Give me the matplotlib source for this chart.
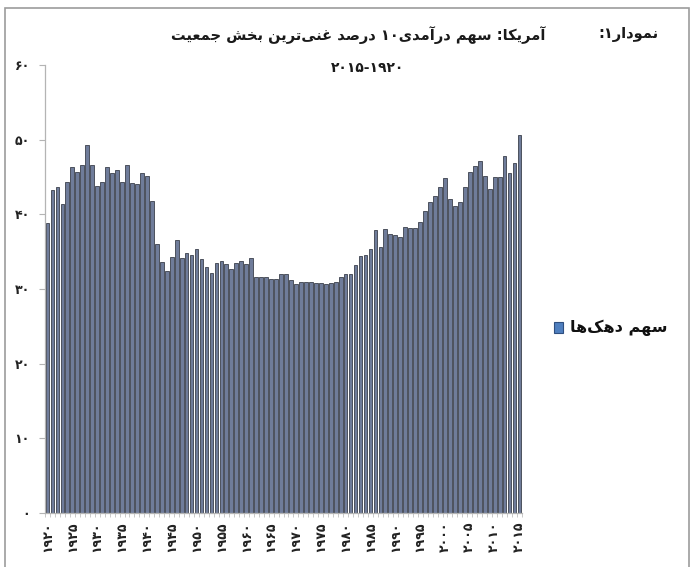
import matplotlib
matplotlib.use("Agg")
import matplotlib.pyplot as plt
from matplotlib import font_manager
from matplotlib.ft2font import FT2Font
from matplotlib.patches import Rectangle

# ---- data: share of income of the top 10% (USA), percent ----
years = list(range(1920, 2016))
shares = [
    38.9, 43.2, 43.6, 41.4, 44.3, 46.4, 45.7, 46.6, 49.3, 46.6,   # 1920-1929
    43.8, 44.3, 46.4, 45.6, 45.9, 44.3, 46.6, 44.2, 44.1, 45.5,   # 1930-1939
    45.2, 41.8, 36.0, 33.6, 32.4, 34.3, 36.5, 34.1, 34.8, 34.6,   # 1940-1949
    35.4, 34.0, 33.0, 32.1, 33.5, 33.7, 33.3, 32.7, 33.5, 33.7,   # 1950-1959
    33.3, 34.1, 31.6, 31.6, 31.6, 31.4, 31.4, 32.0, 32.0, 31.2,   # 1960-1969
    30.7, 31.0, 31.0, 30.9, 30.8, 30.8, 30.7, 30.8, 31.0, 31.6,   # 1970-1979
    32.0, 32.0, 33.2, 34.4, 34.5, 35.3, 37.9, 35.6, 38.0, 37.3,   # 1980-1989
    37.2, 37.0, 38.3, 38.2, 38.2, 39.0, 40.5, 41.7, 42.5, 43.6,   # 1990-1999
    44.9, 42.1, 41.1, 41.7, 43.6, 45.7, 46.5, 47.2, 45.2, 43.4,   # 2000-2009
    45.0, 45.0, 47.8, 45.6, 46.9, 50.6,                           # 2010-2015
]
y_ticks = [0, 10, 20, 30, 40, 50, 60]
label_step = 5

title_label = "نمودار۱:"
title_main = "آمریکا: سهم درآمدی۱۰ درصد غنی‌ترین بخش جمعیت"
title_years = "۲۰۱۵-۱۹۲۰"
legend_label = "سهم دهک‌ها"

# ---- minimal Persian shaping (presentation forms) + RTL visual order ----
FONT_FAMILY = "DejaVu Sans"
_regular = font_manager.findfont(font_manager.FontProperties(family=FONT_FAMILY))
_bold = font_manager.findfont(font_manager.FontProperties(family=FONT_FAMILY, weight="bold"))


def _has_glyphs(path, chars):
    try:
        f = FT2Font(path)
        return all(f.get_char_index(ord(c)) != 0 for c in chars)
    except Exception:
        return False


FORMS = {
    "\u0627": ("\uFE8D", "\uFE8E", None, None),
    "\u0622": ("\uFE81", "\uFE82", None, None),
    "\u062F": ("\uFEA9", "\uFEAA", None, None),
    "\u0631": ("\uFEAD", "\uFEAE", None, None),
    "\u0648": ("\uFEED", "\uFEEE", None, None),
    "\u0628": ("\uFE8F", "\uFE90", "\uFE91", "\uFE92"),
    "\u062A": ("\uFE95", "\uFE96", "\uFE97", "\uFE98"),
    "\u062C": ("\uFE9D", "\uFE9E", "\uFE9F", "\uFEA0"),
    "\u062E": ("\uFEA5", "\uFEA6", "\uFEA7", "\uFEA8"),
    "\u0633": ("\uFEB1", "\uFEB2", "\uFEB3", "\uFEB4"),
    "\u0634": ("\uFEB5", "\uFEB6", "\uFEB7", "\uFEB8"),
    "\u0635": ("\uFEB9", "\uFEBA", "\uFEBB", "\uFEBC"),
    "\u0639": ("\uFEC9", "\uFECA", "\uFECB", "\uFECC"),
    "\u063A": ("\uFECD", "\uFECE", "\uFECF", "\uFED0"),
    "\u0645": ("\uFEE1", "\uFEE2", "\uFEE3", "\uFEE4"),
    "\u0646": ("\uFEE5", "\uFEE6", "\uFEE7", "\uFEE8"),
    "\u0647": ("\uFEE9", "\uFEEA", "\uFEEB", "\uFEEC"),
    "\u06A9": ("\uFB8E", "\uFB8F", "\uFB90", "\uFB91"),
    "\u06CC": ("\uFBFC", "\uFBFD", "\uFBFE", "\uFBFF"),
}
# fall back to Arabic kaf / yeh shapes if the Persian forms are missing
if not _has_glyphs(_regular, FORMS["\u06A9"]):
    FORMS["\u06A9"] = ("\uFED9", "\uFEDA", "\uFEDB", "\uFEDC")
if not _has_glyphs(_regular, FORMS["\u06CC"]):
    FORMS["\u06CC"] = ("\uFEEF", "\uFEF0", "\uFEF3", "\uFEF4")

DIGITS = set("0123456789۰۱۲۳۴۵۶۷۸۹")


def rtl(text):
    chars = list(text)
    out = []
    for i, c in enumerate(chars):
        if c not in FORMS:
            out.append(c)
            continue
        prev = chars[i - 1] if i > 0 else None
        nxt = chars[i + 1] if i + 1 < len(chars) else None
        joins_prev = prev in FORMS and FORMS[prev][2] is not None
        joins_next = FORMS[c][2] is not None and nxt in FORMS
        iso, fin, ini, med = FORMS[c]
        if joins_prev and joins_next:
            out.append(med)
        elif joins_prev:
            out.append(fin)
        elif joins_next:
            out.append(ini)
        else:
            out.append(iso)
    out = [c for c in out if c != "\u200c"]
    out.reverse()
    # keep numbers left-to-right
    res, i = [], 0
    while i < len(out):
        if out[i] in DIGITS:
            j = i
            while j < len(out) and (out[j] in DIGITS or
                                    (out[j] == "-" and j + 1 < len(out) and out[j + 1] in DIGITS)):
                j += 1
            res.extend(reversed(out[i:j]))
            i = j
        else:
            res.append(out[i])
            i += 1
    return "".join(res)


def fa_digits(n):
    return "".join("۰۱۲۳۴۵۶۷۸۹"[int(d)] for d in str(n))


bold_ok = _has_glyphs(_bold, [FORMS[k][0] for k in "سهمدکا"])
label_weight = "bold" if bold_ok else "normal"

# ---- figure ----
W, H = 695, 567
fig = plt.figure(figsize=(W / 100, H / 100), dpi=100)
fig.patch.set_facecolor("white")


def fx(px):
    return px / W


def fy(py):
    return 1 - py / H


ax = fig.add_axes([fx(45), fy(513), fx(522) - fx(45), fy(65) - fy(513)])
x = list(range(len(years)))
ax.bar(x, shares, width=0.76, color="#6f7c9a", edgecolor="#3b404c", linewidth=0.6)

ax.set_xlim(-0.5, len(years) - 0.5)
ax.set_ylim(0, 60)
for s in ("top", "right"):
    ax.spines[s].set_visible(False)
for s in ("left", "bottom"):
    ax.spines[s].set_color("#b4b4b4")
    ax.spines[s].set_linewidth(0.9)

ax.set_yticks(y_ticks)
ax.set_yticklabels([fa_digits(v) for v in y_ticks], family=FONT_FAMILY,
                   fontsize=9, fontweight="bold", color="#222222")
ax.tick_params(axis="y", direction="out", length=4, color="#b4b4b4", pad=7)

label_idx = [i for i, yv in enumerate(years) if yv % label_step == 0]
ax.set_xticks(label_idx)
ax.set_xticklabels([fa_digits(years[i]) for i in label_idx], rotation=90,
                   family=FONT_FAMILY, fontsize=9, fontweight="bold", color="#222222")
ax.tick_params(axis="x", which="major", length=0, pad=6)
ax.set_xticks([i - 0.5 for i in range(len(years) + 1)], minor=True)
ax.tick_params(axis="x", which="minor", direction="out", length=3, color="#c0c0c0")

# titles
fig.text(fx(358), fy(35), rtl(title_main), family=FONT_FAMILY, fontsize=10.5,
         fontweight=label_weight, ha="center", va="center", color="#1a1a1a")
fig.text(fx(628), fy(35), rtl(title_label), family=FONT_FAMILY, fontsize=10.5,
         fontweight=label_weight, ha="center", va="center", color="#1a1a1a")
fig.text(fx(368), fy(68), rtl(title_years), family=FONT_FAMILY, fontsize=10,
         fontweight="bold", ha="center", va="center", color="#1a1a1a")

# legend
fig.patches.append(Rectangle((fx(554), fy(333)), fx(9), fy(322) - fy(333),
                             transform=fig.transFigure, facecolor="#4f7fbf",
                             edgecolor="#2f4f80", linewidth=0.8))
fig.text(fx(668), fy(328), rtl(legend_label), family=FONT_FAMILY, fontsize=11.5,
         fontweight=label_weight, ha="right", va="center", color="#111111")

# outer frame
fig.patches.append(Rectangle((fx(5), -0.02), fx(689) - fx(5), fy(8) + 0.02,
                             transform=fig.transFigure, fill=False,
                             edgecolor="#9c9c9c", linewidth=1.2))

fig.savefig("out.png", dpi=100)
